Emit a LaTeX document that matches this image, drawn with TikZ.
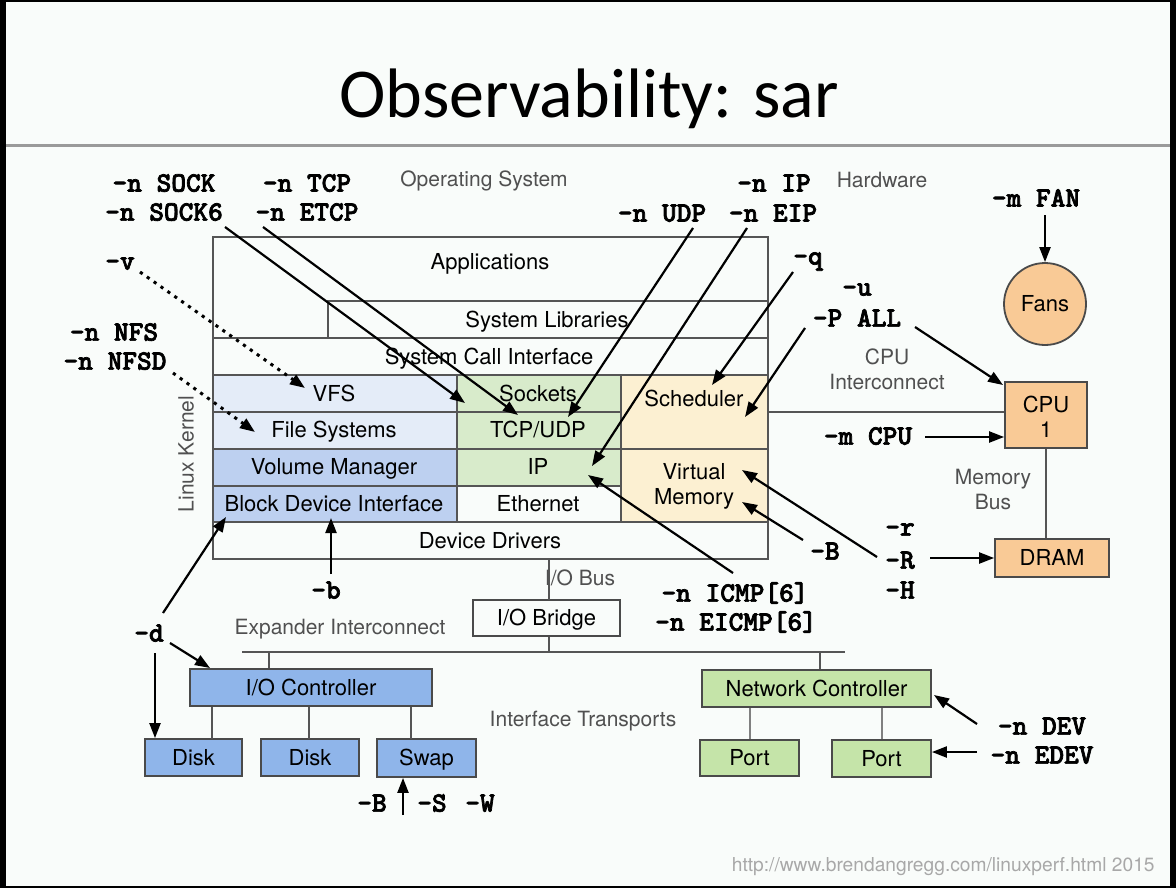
\documentclass[tikz,border=0pt]{standalone}
\usepackage{fontspec}
\setmainfont{TeX Gyre Heros}
\newfontfamily\titlef{Carlito}
\newfontfamily\monof[FakeBold=2.5]{lmmonolt10-bold.otf}
\usetikzlibrary{arrows.meta,fit}
\definecolor{bg}{HTML}{F9FCFA}
\definecolor{cellline}{HTML}{555555}
\definecolor{boxline}{HTML}{4A4A4A}
\definecolor{labgray}{HTML}{505050}
\definecolor{sepgray}{HTML}{9A9A9A}
\definecolor{fsblue}{HTML}{E4ECF8}
\definecolor{vmblue}{HTML}{BDD0F0}
\definecolor{netgreen}{HTML}{D8EBCB}
\definecolor{memyellow}{HTML}{FCF0D2}
\definecolor{hworange}{HTML}{F9CA96}
\definecolor{ioblue}{HTML}{8FB5EA}
\definecolor{nicgreen}{HTML}{C5E4A9}
\definecolor{urlgray}{HTML}{A8A8A8}
\begin{document}
\begin{tikzpicture}[x=0.5pt,y=-0.5pt,
  every node/.style={inner sep=0pt},
  sans/.style={font=\fontsize{11}{13}\selectfont, text height=7.9pt, text depth=0pt},
  sans2/.style={font=\fontsize{11}{12.5}\selectfont, align=center},
  glabel/.style={font=\fontsize{10.5}{12.5}\selectfont, text=labgray, text height=7.5pt, text depth=0pt},
  glabel2/.style={font=\fontsize{10.5}{12.5}\selectfont, text=labgray, align=center},
  mono/.style={font=\monof\fontsize{14}{16}\selectfont, text height=8.6pt, text depth=0pt},
  cell/.style={draw=cellline, line width=1pt},
  box/.style={draw=boxline, line width=0.9pt},
  conn/.style={draw=cellline, line width=1pt},
  arr/.style={-{Triangle[length=7.5pt,width=5.5pt]}, line width=1.1pt, black},
  dotarr/.style={arr, dash pattern=on 1.6pt off 2.6pt, line width=1.5pt},
]
\useasboundingbox (0,0) rectangle (1176,888);
\fill[black] (0,0) rectangle (1176,888);
\fill[bg] (6,2) rectangle (1170,886);
\draw[sepgray, line width=1.5pt] (6,145) -- (1170,145);
\node[font=\titlef\fontsize{35}{40}\selectfont, anchor=base] (title) at (589,118) {Observability: sar};

% ---------------- kernel stack
\node[cell, fill=bg, fit={(213,237) (768,559)}] (kernel) {};
\node[sans] (apps) at (490,262) {Applications};
\node[cell, fit={(328,301) (768,338)}] (syslib) {};
\node[cell, fit={(213,338) (768,375)}] (syscall) {};
\node[cell, fill=fsblue, fit={(213,375) (457,412)}] (vfs) {};
\node[cell, fill=fsblue, fit={(213,412) (457,449)}] (fs) {};
\node[cell, fill=vmblue, fit={(213,449) (457,486)}] (volmgr) {};
\node[cell, fill=vmblue, fit={(213,486) (457,522)}] (bdi) {};
\node[cell, fill=netgreen, fit={(457,375) (621,412)}] (sockets) {};
\node[cell, fill=netgreen, fit={(457,412) (621,449)}] (tcpudp) {};
\node[cell, fill=netgreen, fit={(457,449) (621,486)}] (ip) {};
\node[cell, fill=bg, fit={(457,486) (621,522)}] (ether) {};
\node[cell, fill=memyellow, fit={(621,375) (768,449)}] (sched) {};
\node[cell, fill=memyellow, fit={(621,449) (768,522)}] (virtmem) {};
\node[cell, fill=bg, fit={(213,522) (768,559)}] (devdrv) {};

\node[sans] (syslibt) at (547,320) {System Libraries};
\node[sans] (syscallt) at (489,357) {System Call Interface};
\node[sans] (vfst) at (334,394) {VFS};
\node[sans] (fst) at (334,430) {File Systems};
\node[sans] (volmgrt) at (334,467) {Volume Manager};
\node[sans] (bdit) at (334,504) {Block Device Interface};
\node[sans] (socketst) at (538,394) {Sockets};
\node[sans] (tcpudpt) at (538,430) {TCP/UDP};
\node[sans] (ipt) at (538,467) {IP};
\node[sans] (ethert) at (538,504) {Ethernet};
\node[sans] (schedt) at (694,399) {Scheduler};
\node[sans2] (virtmemt) at (694,486) {Virtual\\Memory};
\node[sans] (devdrvt) at (490,541) {Device Drivers};

\node[glabel] (oslab) at (484,179) {Operating System};
\node[glabel] (hwlab) at (882,180) {Hardware};
\node[glabel, rotate=90] (lk) at (186,454) {Linux Kernel};

% ---------------- hardware side
\node[circle, draw=boxline, line width=0.9pt, fill=hworange, minimum size=41pt] (fans) at (1045,304) {};
\node[sans] (fanst) at (fans) {Fans};
\node[box, fill=hworange, fit={(1005,382) (1087,448)}] (cpu) {};
\node[sans2] (cput) at (1046,417) {CPU\\1};
\node[box, fill=hworange, fit={(995,539) (1109,577)}] (dram) {};
\node[sans] (dramt) at (dram) {DRAM};
\node[glabel2] (cpuic) at (887,369) {CPU\\Interconnect};
\node[glabel2] (membus) at (993,489) {Memory\\Bus};
\draw[conn] (sched.east) -- (cpu.west |- sched.east);
\draw[conn] (cpu.south) -- (cpu.south |- dram.north);

% ---------------- I/O
\node[box, fill=bg, fit={(473,600) (620,636)}] (bridge) {};
\node[sans] (bridget) at (bridge) {I/O Bridge};
\node[glabel] (iobus) at (580,578) {I/O Bus};
\coordinate (busx) at (549,600);
\draw[conn] (devdrv.south -| busx) -- (busx);
\coordinate (exl) at (242,652);
\coordinate (exr) at (845,652);
\draw[conn] (exl) -- (exr);
\draw[conn] (bridge.south -| busx) -- (exl -| busx);
\node[glabel] (expl) at (340,627) {Expander Interconnect};
\node[glabel] (itl) at (583,719) {Interface Transports};

\node[box, fill=ioblue, fit={(190,669) (432,706)}] (ioc) {};
\node[box, fill=ioblue, fit={(145,739) (242,776)}] (disk1) {};
\node[box, fill=ioblue, fit={(261,739) (359,776)}] (disk2) {};
\node[box, fill=ioblue, fit={(377,739) (476,777)}] (swap) {};
\node[sans] (ioct) at (ioc) {I/O Controller};
\node[sans] (disk1t) at (disk1) {Disk};
\node[sans] (disk2t) at (disk2) {Disk};
\node[sans] (swapt) at (swap) {Swap};
\coordinate (ioctop) at (269,652);
\draw[conn] (ioctop) -- (ioc.north -| ioctop);
\coordinate (d1top) at (212,739);
\coordinate (d2top) at (309,739);
\coordinate (swtop) at (411,739);
\draw[conn] (ioc.south -| d1top) -- (d1top);
\draw[conn] (ioc.south -| d2top) -- (d2top);
\draw[conn] (ioc.south -| swtop) -- (swtop);

\node[box, fill=nicgreen, fit={(702,670) (931,707)}] (nic) {};
\node[box, fill=nicgreen, fit={(700,740) (799,776)}] (port1) {};
\node[box, fill=nicgreen, fit={(832,740) (931,777)}] (port2) {};
\node[sans] (nict) at (nic) {Network Controller};
\node[sans] (port1t) at (port1) {Port};
\node[sans] (port2t) at (port2) {Port};
\coordinate (nictop) at (820,652);
\draw[conn] (nictop) -- (nic.north -| nictop);
\draw[conn, draw=gray] (nic.south -| port1.north) -- (port1.north);
\draw[conn, draw=gray] (nic.south -| port2.north) -- (port2.north);

% ---------------- sar option labels
\node[mono] (sock) at (164,183) {-n SOCK};
\node[mono] (sock6) at (164,212) {-n SOCK6};
\node[mono] (tcp) at (307,183) {-n TCP};
\node[mono] (etcp) at (307,212) {-n ETCP};
\node[mono] (udp) at (662,213) {-n UDP};
\node[mono] (ipopt) at (774,183) {-n IP};
\node[mono] (eip) at (773,213) {-n EIP};
\node[mono] (q) at (808,256) {-q};
\node[mono] (u) at (857,287) {-u};
\node[mono] (pall) at (857,318) {-P ALL};
\node[mono] (v) at (120,261) {-v};
\node[mono] (nfs) at (114,332) {-n NFS};
\node[mono] (nfsd) at (115,361) {-n NFSD};
\node[mono] (mfan) at (1036,198) {-m FAN};
\node[mono] (mcpu) at (868,436) {-m CPU};
\node[mono] (r) at (900,527) {-r};
\node[mono] (R) at (900,560) {-R};
\node[mono] (H) at (900,590) {-H};
\node[mono] (Bvm) at (825,551) {-B};
\node[mono] (icmp) at (735,593) {-n ICMP[6]};
\node[mono] (eicmp) at (736,622) {-n EICMP[6]};
\node[mono] (b) at (326,590) {-b};
\node[mono] (d) at (149,633) {-d};
\node[mono] (Bsw) at (372,803) {-B};
\node[mono] (Ssw) at (432,803) {-S};
\node[mono] (Wsw) at (480,803) {-W};
\node[mono] (dev) at (1042,726) {-n DEV};
\node[mono] (edev) at (1042,755) {-n EDEV};

\node[font=\fontsize{9.6}{11}\selectfont, text=urlgray, anchor=base east] (url) at (1155,871) {http://www.brendangregg.com/linuxperf.html 2015};

% ---------------- arrow end points
\coordinate (s-sock6) at (225,227);  \coordinate (t-sock6) at (465,403);
\coordinate (s-etcp) at (263,227);   \coordinate (t-etcp) at (518,415);
\coordinate (s-udp) at (693,228);    \coordinate (t-udp) at (568,417);
\coordinate (s-eip) at (747,228);    \coordinate (t-eip) at (592,466);
\coordinate (s-q) at (793,272);      \coordinate (t-q) at (712,385);
\coordinate (s-pall1) at (805,328);  \coordinate (t-pall1) at (745,417);
\coordinate (s-pall2) at (915,327);  \coordinate (t-pall2) at (1003,385);
\coordinate (s-fan) at (1045,215);
\coordinate (s-mcpu) at (925,437);
\coordinate (s-R1) at (930,558);
\coordinate (s-R2) at (877,557);     \coordinate (t-R2) at (742,470);
\coordinate (s-B) at (803,540);      \coordinate (t-B) at (742,502);
\coordinate (s-icmp) at (733,573);   \coordinate (t-icmp) at (588,475);
\coordinate (s-v) at (140,272);      \coordinate (t-v) at (305,388);
\coordinate (s-nfs) at (173,373);    \coordinate (t-nfs) at (255,432);
\coordinate (s-b) at (331,574);      \coordinate (t-b) at (331,518);
\coordinate (s-d1) at (163,613);     \coordinate (t-d1) at (226,517);
\coordinate (s-d2) at (170,643);     \coordinate (t-d2) at (210,668);
\coordinate (s-d3) at (155,653);
\coordinate (s-sw) at (403,815);
\coordinate (s-dev) at (977,724);    \coordinate (t-dev) at (934,695);
\coordinate (s-edev) at (977,752);

% ---------------- arrows
\draw[arr] (s-sock6) -- (t-sock6);
\draw[arr] (s-etcp) -- (t-etcp);
\draw[arr] (s-udp) -- (t-udp);
\draw[arr] (s-eip) -- (t-eip);
\draw[arr] (s-q) -- (t-q);
\draw[arr] (s-pall1) -- (t-pall1);
\draw[arr] (s-pall2) -- (t-pall2);
\draw[arr] (s-fan) -- (fans.north);
\draw[arr] (s-mcpu) -- (cpu.west |- s-mcpu);
\draw[arr] (s-R1) -- (dram.west |- s-R1);
\draw[arr] (s-R2) -- (t-R2);
\draw[arr] (s-B) -- (t-B);
\draw[arr] (s-icmp) -- (t-icmp);
\draw[dotarr] (s-v) -- (t-v);
\draw[dotarr] (s-nfs) -- (t-nfs);
\draw[arr] (s-b) -- (t-b);
\draw[arr] (s-d1) -- (t-d1);
\draw[arr] (s-d2) -- (t-d2);
\draw[arr] (s-d3) -- (disk1.north -| s-d3);
\draw[arr] (s-sw) -- (swap.south -| s-sw);
\draw[arr] (s-dev) -- (t-dev);
\draw[arr] (s-edev) -- (port2.east |- s-edev);
\end{tikzpicture}
\end{document}
